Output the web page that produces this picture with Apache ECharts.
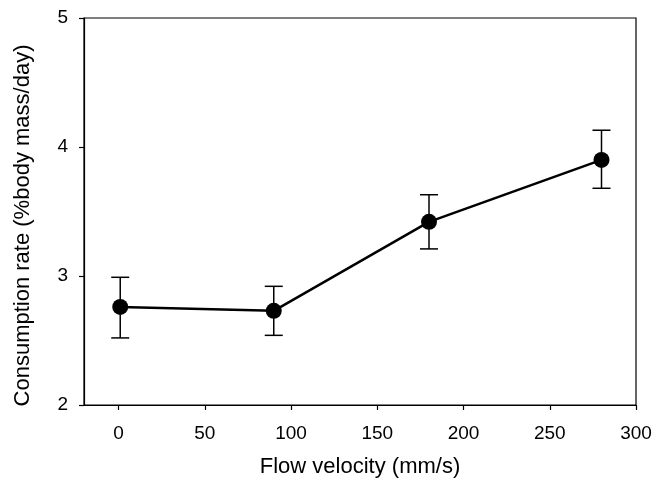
<!DOCTYPE html>
<html>
<head>
<meta charset="utf-8">
<script src="https://cdn.jsdelivr.net/npm/echarts@6/dist/echarts.min.js"></script>
<style>html,body{margin:0;padding:0;background:#fff}#c{width:666px;height:489px}</style>
</head>
<body>
<div id="c"></div>
<script>
var velocity = [1, 90, 180, 280];
var rate = [2.76, 2.73, 3.42, 3.90];
var errLow = [2.52, 2.54, 3.21, 3.68];
var errHigh = [2.99, 2.92, 3.63, 4.13];
var xTicks = [0, 50, 100, 150, 200, 250, 300];
var yTicks = [2, 3, 4, 5];

var FONT = '"Liberation Sans", Arial, Helvetica, sans-serif';
var chart = echarts.init(document.getElementById('c'), null, {renderer: 'canvas'});
var errData = velocity.map(function (v, i) { return [v, errLow[i], errHigh[i]]; });
var lineData = velocity.map(function (v, i) { return [v, rate[i]]; });

chart.setOption({
  animation: false,
  backgroundColor: '#fff',
  grid: {left: 84, right: 30, top: 18, bottom: 84, show: true, borderColor: '#000', borderWidth: 1.2, backgroundColor: 'transparent'},
  xAxis: {
    type: 'value', min: -20, max: 300,
    name: 'Flow velocity (mm/s)', nameLocation: 'middle', nameGap: 51,
    nameTextStyle: {fontFamily: FONT, fontSize: 22, color: '#000'},
    axisLine: {show: true, onZero: false, lineStyle: {color: '#000', width: 1.2}},
    axisTick: {show: true, length: 5, lineStyle: {color: '#000', width: 1.2}, customValues: xTicks},
    axisLabel: {fontFamily: FONT, fontSize: 19, color: '#000', margin: 19, customValues: xTicks},
    splitLine: {show: false}
  },
  yAxis: {
    type: 'value', min: 2, max: 5, interval: 1,
    name: 'Consumption rate (%body mass/day)', nameLocation: 'middle', nameGap: 50,
    nameTextStyle: {fontFamily: FONT, fontSize: 22, color: '#000', padding: [0, 28, 0, 0]},
    axisLine: {show: true, onZero: false, lineStyle: {color: '#000', width: 1.2}},
    axisTick: {show: true, length: 5, lineStyle: {color: '#000', width: 1.2}},
    axisLabel: {fontFamily: FONT, fontSize: 19, color: '#000', margin: 16},
    splitLine: {show: false}
  },
  series: [
    {
      type: 'custom',
      data: errData,
      z: 2,
      renderItem: function (params, api) {
        var x = api.value(0);
        var lo = api.coord([x, api.value(1)]);
        var hi = api.coord([x, api.value(2)]);
        var hw = 9;
        var st = {stroke: '#000', lineWidth: 1.5, fill: null};
        return {
          type: 'group',
          children: [
            {type: 'line', shape: {x1: lo[0], y1: lo[1], x2: hi[0], y2: hi[1]}, style: st},
            {type: 'line', shape: {x1: lo[0] - hw, y1: lo[1], x2: lo[0] + hw, y2: lo[1]}, style: st},
            {type: 'line', shape: {x1: hi[0] - hw, y1: hi[1], x2: hi[0] + hw, y2: hi[1]}, style: st}
          ]
        };
      }
    },
    {
      type: 'line',
      data: lineData,
      z: 3,
      symbol: 'circle',
      symbolSize: 16,
      lineStyle: {color: '#000', width: 2.5},
      itemStyle: {color: '#000'}
    }
  ]
});
</script>
</body>
</html>
